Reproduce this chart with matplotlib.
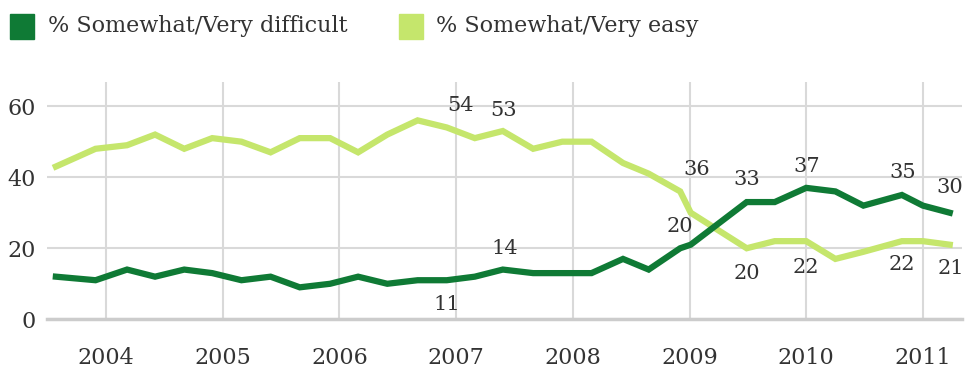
import numpy as np
import matplotlib
matplotlib.use("Agg")
import matplotlib.pyplot as plt
from matplotlib.patches import Rectangle

# survey dates as decimal years
dates = [2003.57, 2003.91, 2004.18, 2004.42, 2004.67, 2004.91, 2005.16, 2005.41,
         2005.66, 2005.92, 2006.16, 2006.41, 2006.67, 2006.92, 2007.16, 2007.40,
         2007.66, 2007.91, 2008.16, 2008.43, 2008.65, 2008.92, 2009.01, 2009.49,
         2009.73, 2010.00, 2010.25, 2010.49, 2010.82, 2011.00, 2011.23]
difficult = [12, 11, 14, 12, 14, 13, 11, 12, 9, 10, 12, 10, 11, 11, 12, 14,
             13, 13, 13, 17, 14, 20, 21, 33, 33, 37, 36, 32, 35, 32, 30]
easy = [43, 48, 49, 52, 48, 51, 50, 47, 51, 51, 47, 52, 56, 54, 51, 53,
        48, 50, 50, 44, 41, 36, 30, 20, 22, 22, 17, 19, 22, 22, 21]
years = [2004, 2005, 2006, 2007, 2008, 2009, 2010, 2011]
yticks = [0, 20, 40, 60]
labels = ["% Somewhat/Very difficult", "% Somewhat/Very easy"]

# which points get a value label, and pixel offset of the label
easy_lbl = {13: (14, 22), 15: (1, 21), 21: (17, 22), 23: (0, -25),
            25: (0, -26), 28: (0, -23), 30: (1, -24)}
diff_lbl = {13: (0, -24), 15: (2, 21), 21: (0, 22), 23: (0, 23),
            25: (0, 21), 28: (1, 22), 30: (0, 25)}

DARK = "#0f7a35"
LIGHT = "#c5e66c"
GRID = "#d9d9d9"
TXT = "#333333"

plt.rcParams["font.family"] = ["DejaVu Serif"]

fig = plt.figure(figsize=(9.66, 3.71), dpi=100)
ax = fig.add_axes([47 / 966, 1 - 319.3 / 371, 915 / 966, (319.3 - 82) / 371])

ax.plot(dates, easy, color=LIGHT, lw=4.5, solid_joinstyle="miter", zorder=3)
ax.plot(dates, difficult, color=DARK, lw=4.5, solid_joinstyle="miter", zorder=4)

for i, (dx, dy) in easy_lbl.items():
    ax.annotate(str(easy[i]), (dates[i], easy[i]), xytext=(dx, dy),
                textcoords="offset pixels", ha="center", va="center",
                fontsize=15, color=TXT, zorder=5)
for i, (dx, dy) in diff_lbl.items():
    ax.annotate(str(difficult[i]), (dates[i], difficult[i]), xytext=(dx, dy),
                textcoords="offset pixels", ha="center", va="center",
                fontsize=15, color=TXT, zorder=5)

ax.set_xlim(2003.494, 2011.335)
ax.set_ylim(0, 66.8)
ax.set_xticks(years)
ax.set_yticks(yticks)
ax.grid(True, color=GRID, lw=1.5)
ax.set_axisbelow(True)
for s in ["top", "right", "left"]:
    ax.spines[s].set_visible(False)
ax.spines["bottom"].set_color("#cccccc")
ax.spines["bottom"].set_linewidth(2.5)
ax.tick_params(length=0, labelsize=16, colors=TXT)
ax.tick_params(axis="x", pad=20)
ax.tick_params(axis="y", pad=8)

# legend, drawn by hand
fig.add_artist(Rectangle((10 / 966, 1 - 39 / 371), 24 / 966, 25 / 371,
                         transform=fig.transFigure, color=DARK))
fig.text(48 / 966, 1 - 26 / 371, labels[0], va="center", fontsize=16, color=TXT)
fig.add_artist(Rectangle((399 / 966, 1 - 39 / 371), 24 / 966, 25 / 371,
                         transform=fig.transFigure, color=LIGHT))
fig.text(436 / 966, 1 - 26 / 371, labels[1], va="center", fontsize=16, color=TXT)

fig.savefig("out.png", dpi=100)
